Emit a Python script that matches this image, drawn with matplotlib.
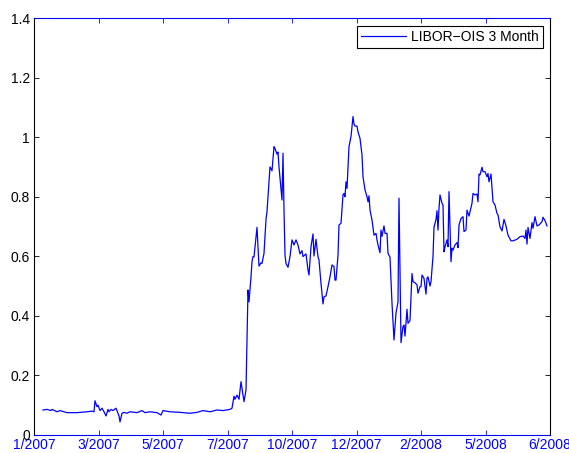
import numpy as np
import matplotlib
matplotlib.use("Agg")
import matplotlib.pyplot as plt
from matplotlib.ticker import FormatStrFormatter

plt.rcParams['font.family'] = ['Liberation Sans', 'DejaVu Sans']

# day offsets from the left edge of the axis, and the spread in percentage points
days = [9, 13, 17, 18, 23, 26, 33, 43, 53, 58, 60, 61, 63, 64, 66, 68, 70, 72, 74, 75,
        77, 79, 82, 84, 85, 86, 88, 90, 93, 96, 103, 108, 111, 116, 123, 127, 129, 136, 146, 156,
        163, 169, 176, 183, 189, 196, 198, 200, 201, 203, 205, 207, 210, 212, 214, 215, 217, 218, 219, 220,
        223, 225, 227, 228, 230, 232, 233, 236, 238, 240, 241, 243, 244, 245, 248, 249, 250, 251, 252, 254,
        256, 258, 260, 262, 264, 266, 268, 269, 272, 274, 275, 277, 279, 280, 282, 284, 285, 287, 289, 290,
        292, 294, 296, 298, 300, 301, 302, 304, 305, 307, 309, 310, 311, 312, 313, 315, 317, 319, 320, 321,
        323, 324, 326, 328, 329, 331, 333, 334, 335, 336, 338, 340, 342, 343, 344, 346, 347, 348, 350, 351,
        353, 354, 356, 358, 360, 362, 364, 365, 367, 369, 370, 371, 373, 374, 376, 378, 379, 381, 383, 384,
        386, 387, 388, 390, 392, 393, 394, 396, 397, 399, 400, 402, 403, 404, 405, 406, 408, 409, 410, 411,
        413, 414, 415, 417, 418, 419, 421, 423, 424, 425, 427, 429, 430, 432, 433, 435, 438, 439, 441, 443,
        444, 445, 446, 448, 449, 451, 453, 454, 455, 457, 459, 461, 463, 464, 466, 468, 470, 472, 474, 477,
        479, 483, 486, 489, 491, 492, 493, 494, 496, 498, 499, 501, 503, 505, 508, 509, 511, 513]
spread = [0.084, 0.086, 0.082, 0.086, 0.078, 0.082, 0.075, 0.075, 0.078, 0.080, 0.078, 0.115, 0.095, 0.100, 0.082, 0.090, 0.078, 0.064, 0.086, 0.078,
          0.086, 0.082, 0.090, 0.073, 0.064, 0.044, 0.073, 0.076, 0.073, 0.078, 0.075, 0.082, 0.075, 0.078, 0.075, 0.067, 0.082, 0.078, 0.076, 0.073,
          0.076, 0.082, 0.078, 0.084, 0.082, 0.086, 0.090, 0.130, 0.120, 0.134, 0.120, 0.179, 0.112, 0.151, 0.487, 0.447, 0.531, 0.582, 0.599, 0.598,
          0.697, 0.567, 0.578, 0.576, 0.610, 0.724, 0.750, 0.900, 0.887, 0.968, 0.962, 0.943, 0.950, 0.900, 0.789, 0.946, 0.755, 0.604, 0.576, 0.563,
          0.599, 0.655, 0.638, 0.655, 0.638, 0.608, 0.619, 0.599, 0.608, 0.554, 0.537, 0.632, 0.675, 0.601, 0.657, 0.599, 0.587, 0.509, 0.440, 0.464,
          0.467, 0.498, 0.531, 0.571, 0.565, 0.520, 0.520, 0.604, 0.705, 0.711, 0.806, 0.811, 0.800, 0.850, 0.828, 0.968, 1.002, 1.069, 1.044, 1.037,
          1.037, 1.018, 0.996, 0.940, 0.867, 0.823, 0.800, 0.783, 0.803, 0.755, 0.722, 0.671, 0.677, 0.655, 0.638, 0.612, 0.688, 0.667, 0.702, 0.677,
          0.677, 0.610, 0.597, 0.442, 0.319, 0.409, 0.447, 0.795, 0.310, 0.364, 0.369, 0.332, 0.422, 0.375, 0.384, 0.542, 0.515, 0.511, 0.504, 0.476,
          0.498, 0.498, 0.537, 0.526, 0.473, 0.526, 0.531, 0.500, 0.515, 0.599, 0.697, 0.724, 0.753, 0.688, 0.761, 0.806, 0.778, 0.772, 0.615, 0.632,
          0.655, 0.632, 0.817, 0.582, 0.627, 0.621, 0.638, 0.646, 0.629, 0.705, 0.727, 0.733, 0.683, 0.688, 0.755, 0.735, 0.778, 0.811, 0.806, 0.809,
          0.783, 0.876, 0.873, 0.899, 0.884, 0.884, 0.867, 0.878, 0.850, 0.876, 0.783, 0.772, 0.744, 0.739, 0.699, 0.685, 0.724, 0.702, 0.671, 0.652,
          0.652, 0.657, 0.666, 0.668, 0.660, 0.688, 0.641, 0.697, 0.660, 0.713, 0.694, 0.733, 0.702, 0.705, 0.716, 0.731, 0.720, 0.702]

xtick_labels = ['1/2007', '3/2007', '5/2007', '7/2007', '10/2007', '12/2007', '2/2008', '5/2008', '6/2008']
x_end = 516

fig = plt.figure(figsize=(5.69, 4.53), dpi=100)
ax = fig.add_axes([34 / 569, 1 - 435 / 453, 516 / 569, 417 / 453])

ax.plot(days, spread, color='#0000ff', linewidth=0.9, label='LIBOR\u2212OIS 3 Month')

ax.set_xlim(0, x_end)
ax.set_ylim(0, 1.4)
ax.set_xticks(np.linspace(0, x_end, len(xtick_labels)))
ax.set_xticklabels(xtick_labels)
ax.set_yticks(np.arange(0, 1.41, 0.2))
ax.yaxis.set_major_formatter(FormatStrFormatter('%g'))

# matlab-ish look: ticks inside, on all four sides, blue x axis
ax.tick_params(direction='in', length=3.6, width=0.6, labelsize=10, top=True, right=True)
ax.tick_params(axis='x', colors='#0000ff', pad=2)
ax.tick_params(axis='y', colors='black', pad=3)
for side in ['left', 'right']:
    ax.spines[side].set_color('black')
for side in ['top', 'bottom']:
    ax.spines[side].set_color('#0000ff')
for sp in ax.spines.values():
    sp.set_linewidth(0.8)

leg = ax.legend(loc='upper right', bbox_to_anchor=(509 / 516, 1 - 8 / 417),
                borderaxespad=0, fancybox=False, framealpha=1, fontsize=10,
                handlelength=3.2, handletextpad=0.4, borderpad=0.3)
leg.get_frame().set_edgecolor('black')
leg.get_frame().set_linewidth(0.8)

fig.savefig('out.png', dpi=100)
